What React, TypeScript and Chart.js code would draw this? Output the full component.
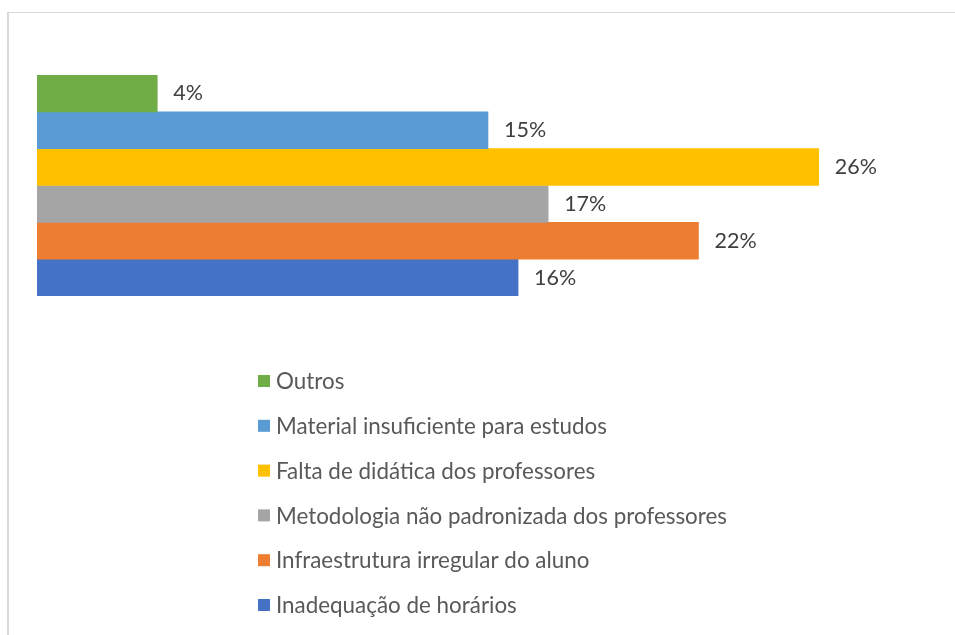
import React, { useEffect, useRef } from "react";
import { Chart, registerables } from "chart.js";

Chart.register(...registerables);

const categories = [""];
const seriesNames = [
  "Outros",
  "Material insuficiente para estudos",
  "Falta de didática dos professores",
  "Metodologia não padronizada dos professores",
  "Infraestrutura irregular do aluno",
  "Inadequação de horários",
];
const seriesValues = [4, 15, 26, 17, 22, 16];
const seriesColors = ["#70AD47", "#5B9BD5", "#FFC000", "#A5A5A5", "#ED7D31", "#4472C4"];

const FONT = "Lato, 'Open Sans', sans-serif";

const labelPlugin = {
  id: "valueLabels",
  afterDatasetsDraw(chart: any) {
    const ctx = chart.ctx;
    ctx.save();
    ctx.font = `21.5px ${FONT}`;
    ctx.fillStyle = "#404040";
    ctx.textBaseline = "middle";
    ctx.textAlign = "left";
    chart.data.datasets.forEach((ds: any, i: number) => {
      const meta = chart.getDatasetMeta(i);
      meta.data.forEach((el: any, j: number) => {
        ctx.fillText(`${ds.data[j]}%`, el.x + 16, el.y);
      });
    });
    ctx.restore();
  },
};

const legendPlugin = {
  id: "columnLegend",
  afterDraw(chart: any) {
    const ctx = chart.ctx;
    ctx.save();
    ctx.font = `22.4px ${FONT}`;
    ctx.textBaseline = "middle";
    ctx.textAlign = "left";
    const x0 = 258;
    const y0 = 381;
    const step = 44.8;
    chart.data.datasets.forEach((ds: any, i: number) => {
      const y = y0 + i * step;
      ctx.fillStyle = ds.backgroundColor;
      ctx.fillRect(x0, y - 6, 12, 12);
      ctx.fillStyle = "#595959";
      ctx.fillText(ds.label, x0 + 18, y + 1);
    });
    ctx.restore();
  },
};

export default function App() {
  const ref = useRef<HTMLCanvasElement>(null);
  useEffect(() => {
    if (!ref.current) return;
    const chart = new Chart(ref.current, {
      type: "bar",
      data: {
        labels: categories,
        datasets: seriesNames.map((name, i) => ({
          label: name,
          data: [seriesValues[i]],
          backgroundColor: seriesColors[i],
          borderWidth: 0,
          barPercentage: 1,
          categoryPercentage: 1,
        })),
      },
      options: {
        indexAxis: "y",
        animation: false,
        responsive: false,
        maintainAspectRatio: false,
        layout: { padding: { left: 37, top: 75, right: 16, bottom: 339 } },
        plugins: {
          legend: { display: false },
          tooltip: { enabled: false },
        },
        scales: {
          x: { display: false, min: 0, max: 30 },
          y: { display: false },
        },
      },
      plugins: [labelPlugin, legendPlugin],
    });
    return () => chart.destroy();
  }, []);
  return (
    <div style={{ position: "fixed", left: 0, top: 0, width: 955, height: 635, background: "#fff", overflow: "hidden" }}>
      <div
        style={{
          position: "absolute",
          left: 7,
          top: 12,
          width: 1000,
          height: 700,
          borderLeft: "2px solid #d9d9d9",
          borderTop: "1px solid #d9d9d9",
        }}
      />
      <canvas ref={ref} width={955} height={635} style={{ position: "absolute", left: 0, top: 0 }} />
    </div>
  );
}
